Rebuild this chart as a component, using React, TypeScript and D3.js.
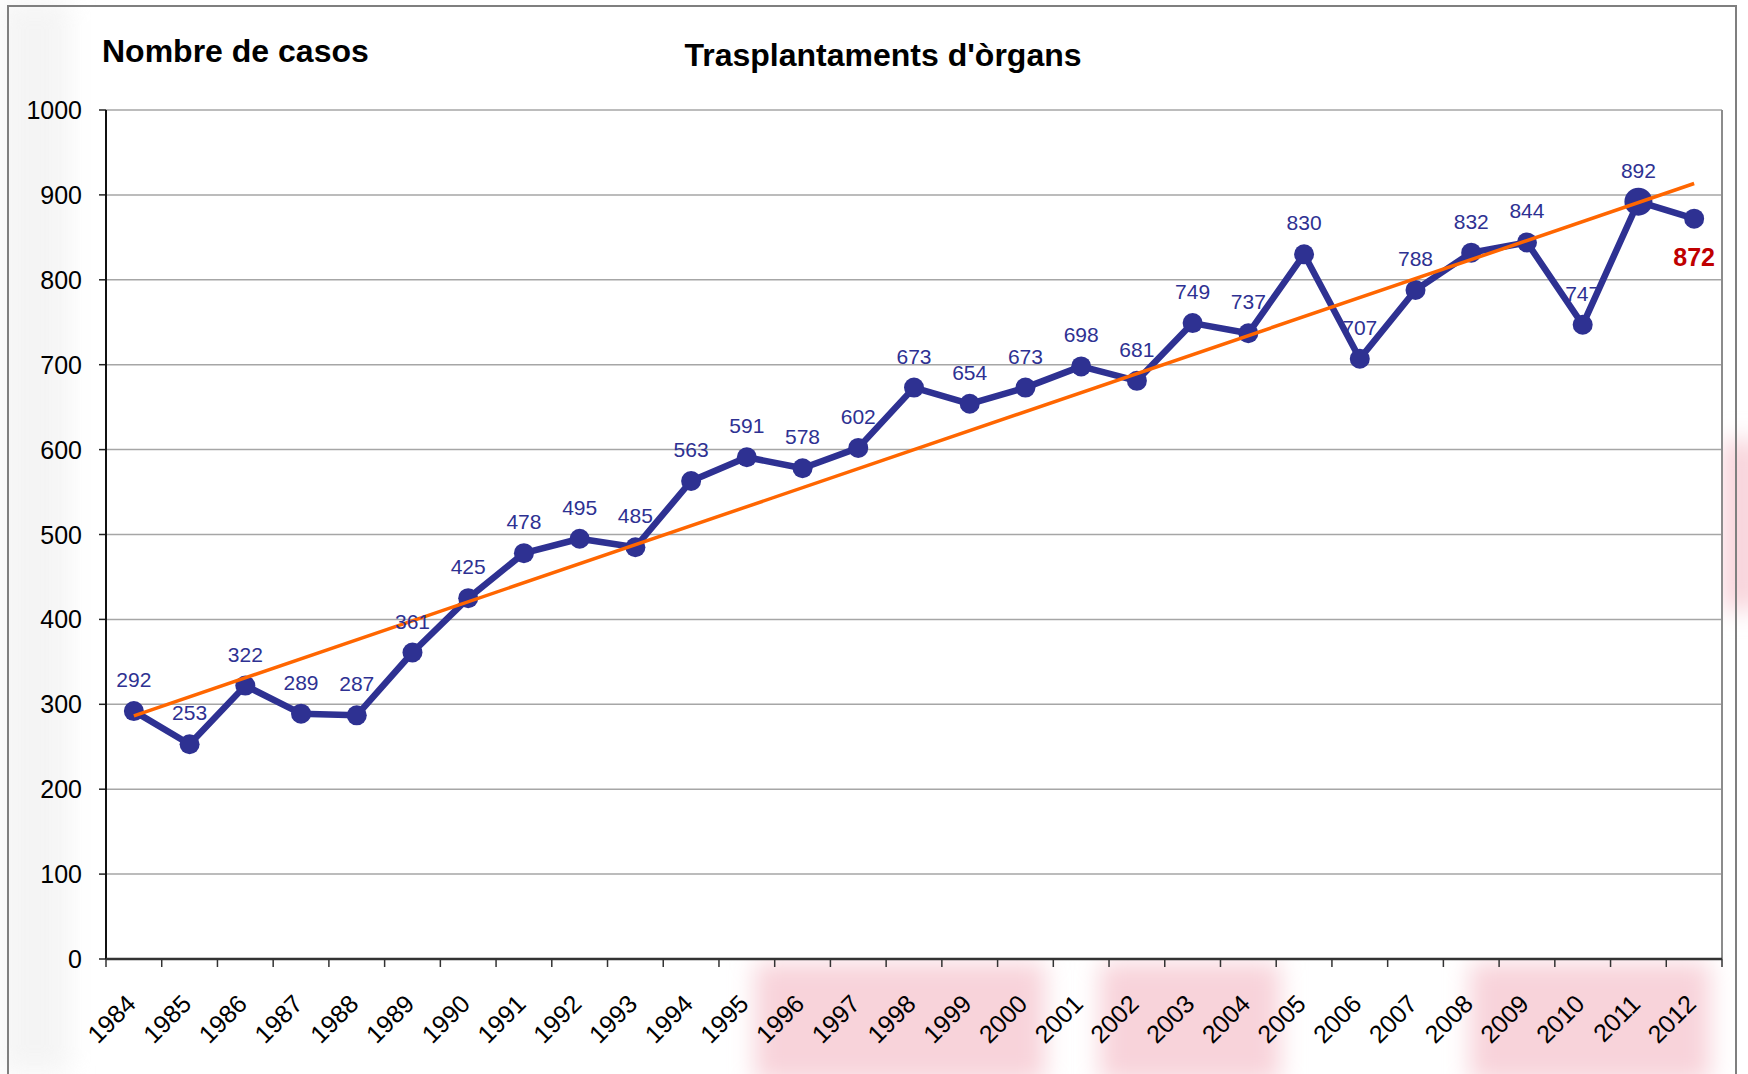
import React from 'react';
import * as d3 from 'd3';

// data
const years = [
  '1984', '1985', '1986', '1987', '1988', '1989', '1990', '1991', '1992', '1993',
  '1994', '1995', '1996', '1997', '1998', '1999', '2000', '2001', '2002', '2003',
  '2004', '2005', '2006', '2007', '2008', '2009', '2010', '2011', '2012',
];
const cases = [
  292, 253, 322, 289, 287, 361, 425, 478, 495, 485,
  563, 591, 578, 602, 673, 654, 673, 698, 681, 749,
  737, 830, 707, 788, 832, 844, 747, 892, 872,
];
const yTicks = [0, 100, 200, 300, 400, 500, 600, 700, 800, 900, 1000];

const W = 1748;
const H = 1074;
const left = 106;
const right = 1722;
const top = 110;
const bottom = 959;
const navy = '#2E3192';
const font = '"Liberation Sans", Arial, sans-serif';

// pale blotches from the scanned background
const blotches = [
  { x: 755, y: 962, w: 290, h: 120 },
  { x: 1100, y: 962, w: 180, h: 120 },
  { x: 1470, y: 962, w: 240, h: 120 },
  { x: 1722, y: 440, w: 40, h: 170 },
];

export default function App() {
  const x = d3.scaleBand().domain(years).range([left, right]);
  const cx = (y: string) => (x(y) as number) + x.bandwidth() / 2;
  const y = d3.scaleLinear().domain([0, 1000]).range([bottom, top]);

  // least squares trend line, as the spreadsheet draws it
  const idx = cases.map((_, i) => i);
  const mx = d3.mean(idx) as number;
  const my = d3.mean(cases) as number;
  const slope =
    (d3.sum(idx, (i) => (i - mx) * (cases[i] - my)) as number) /
    (d3.sum(idx, (i) => (i - mx) ** 2) as number);
  const trend = (i: number) => my + slope * (i - mx);

  const line = d3
    .line<number>()
    .x((_, i) => cx(years[i]))
    .y((d) => y(d));

  const last = years.length - 1;

  return (
    <svg
      width={W}
      height={H}
      style={{ position: 'absolute', left: 0, top: 0, background: '#fff' }}
    >
      <defs>
        <filter id="blur" x="-50%" y="-50%" width="200%" height="200%">
          <feGaussianBlur stdDeviation="12" />
        </filter>
      </defs>
      {blotches.map((b, i) => (
        <rect key={i} x={b.x} y={b.y} width={b.w} height={b.h} fill="#F8D3DA" filter="url(#blur)" />
      ))}
      <rect x={0} y={0} width={70} height={H} fill="#eeeeee" filter="url(#blur)" opacity={0.6} />

      {/* outer frame */}
      <path d={`M8,${H} V6 H1736 V${H}`} fill="none" stroke="#7f7f7f" strokeWidth={2} />

      {/* titles */}
      <text x={102} y={62} fontFamily={font} fontWeight="bold" fontSize={32}>
        Nombre de casos
      </text>
      <text x={883} y={66} fontFamily={font} fontWeight="bold" fontSize={32} textAnchor="middle">
        Trasplantaments d'òrgans
      </text>

      {/* grid */}
      <rect x={left} y={top} width={right - left} height={bottom - top} fill="#fff" />
      {yTicks.map((t) => (
        <g key={t}>
          <line x1={left} x2={right} y1={y(t)} y2={y(t)} stroke="#a6a6a6" strokeWidth={1.5} />
          <line x1={left - 7} x2={left} y1={y(t)} y2={y(t)} stroke="#222" strokeWidth={1.5} />
          <text
            x={left - 24}
            y={y(t) + 9}
            textAnchor="end"
            fontFamily={font}
            fontSize={25}
            fill="#000"
          >
            {t}
          </text>
        </g>
      ))}
      <line x1={right} x2={right} y1={top} y2={bottom} stroke="#8c8c8c" strokeWidth={2} />
      <line x1={left} x2={left} y1={top} y2={bottom} stroke="#111" strokeWidth={2} />
      <line x1={left} x2={right} y1={bottom} y2={bottom} stroke="#333" strokeWidth={2.5} />

      {/* x ticks and labels */}
      {years.map((yr, i) => (
        <g key={yr}>
          <line
            x1={x(yr) as number}
            x2={x(yr) as number}
            y1={bottom}
            y2={bottom + 8}
            stroke="#333"
            strokeWidth={1.5}
          />
          {i === last && (
            <line x1={right} x2={right} y1={bottom} y2={bottom + 8} stroke="#333" strokeWidth={1.5} />
          )}
          <text
            transform={`translate(${cx(yr) - 9},${bottom + 34}) rotate(-45)`}
            textAnchor="end"
            fontFamily={font}
            fontSize={25}
            dy="0.7em"
          >
            {yr}
          </text>
        </g>
      ))}

      {/* data line */}
      <path d={line(cases) as string} fill="none" stroke={navy} strokeWidth={6.5} strokeLinejoin="round" />
      {cases.map((v, i) => (
        <circle key={i} cx={cx(years[i])} cy={y(v)} r={i === last - 1 ? 14 : 10} fill={navy} />
      ))}

      {/* trend */}
      <line
        x1={cx(years[0])}
        y1={y(trend(0))}
        x2={cx(years[last])}
        y2={y(trend(last))}
        stroke="#FF6600"
        strokeWidth={3.5}
      />

      {/* value labels */}
      {cases.map((v, i) =>
        i === last ? (
          <text
            key={i}
            x={cx(years[i])}
            y={y(v) + 47}
            textAnchor="middle"
            fontFamily={font}
            fontWeight="bold"
            fontSize={25}
            fill="#C00000"
          >
            {v}
          </text>
        ) : (
          <text
            key={i}
            x={cx(years[i])}
            y={y(v) - 24}
            textAnchor="middle"
            fontFamily={font}
            fontSize={21}
            fill={navy}
          >
            {v}
          </text>
        )
      )}
    </svg>
  );
}
